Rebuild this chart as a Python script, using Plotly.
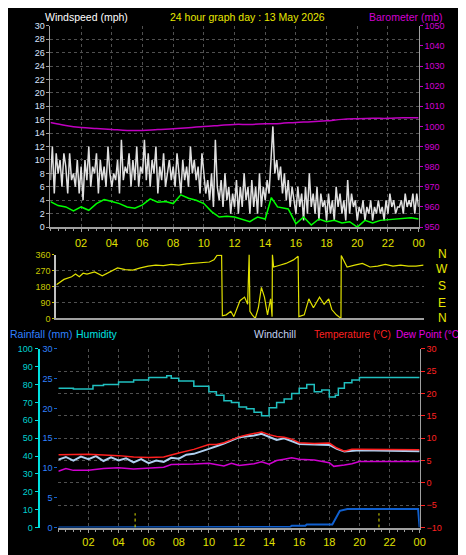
import plotly.graph_objects as go

W, H = 466, 555
def fx(p): return p / W
def fy(p): return 1 - p / H

hours_lbl = [2, 4, 6, 8, 10, 12, 14, 16, 18, 20, 22, 24]
hours_txt = ["02", "04", "06", "08", "10", "12", "14", "16", "18", "20", "22", "00"]

# --- wind gust (mph), every 0.125 h
gust_t = [i * 0.125 for i in range(193)]
gust = [7, 12, 5, 11, 8, 10, 6, 11, 9, 5, 11, 7, 8, 6, 10, 5,
        9, 4, 10, 7, 12, 6, 9, 8, 11, 5, 10, 7, 9, 6, 12, 8,
        6, 8, 7, 10, 5, 13, 7, 9, 8, 11, 6, 10, 7, 12, 6, 9,
        8, 13, 7, 11, 6, 10, 8, 12, 5, 9, 7, 11, 6, 8, 10, 7,
        9, 6, 11, 8, 5, 10, 7, 9, 6, 12, 8, 10, 7, 9, 5, 11,
        8, 5, 7, 4, 8, 3, 13, 6, 4, 7, 3, 8, 4, 6, 2, 5,
        3, 7, 2, 6, 3, 8, 4, 6, 2, 7, 3, 6, 2, 8, 3, 6,
        4, 7, 5, 10, 15, 8, 10, 7, 9, 5, 8, 4, 7, 3, 6, 4,
        2, 6, 3, 5, 1, 6, 2, 8, 3, 5, 2, 6, 1, 5, 3, 4,
        1, 5, 2, 4, 1, 6, 3, 5, 2, 4, 1, 7, 2, 5, 3, 4,
        1, 3, 2, 4, 1, 3, 2, 4, 1, 3, 2, 4, 2, 3, 1, 4,
        2, 5, 3, 4, 2, 3, 3, 4, 2, 5, 3, 4, 3, 5, 2, 5, 3]

# --- wind average (mph)
avg_t = [0, 0.5, 1, 1.5, 2, 2.5, 3, 3.5, 4, 4.5, 5, 5.5, 6, 6.5, 7, 7.5, 8, 8.5, 9, 9.5,
         10, 10.5, 11, 11.5, 12, 12.5, 13, 13.5, 14, 14.4, 14.8, 15.5, 16, 16.5, 17, 17.5,
         18, 18.5, 19, 19.5, 20, 20.5, 21, 21.5, 22, 22.5, 23, 23.5, 24]
avg = [3.8, 3.2, 3.0, 2.4, 3.0, 2.5, 3.5, 4.1, 3.8, 3.5, 3.0, 2.8, 3.3, 4.2, 3.7, 3.8, 3.5, 4.8, 4.3, 4.0,
       3.5, 2.3, 1.5, 1.6, 1.5, 1.2, 0.8, 1.5, 1.2, 4.4, 3.0, 2.7, 0.5, 1.5, 0.3, 1.2,
       0.8, 1.0, 0.6, 0.8, 0.0, 1.0, 0.6, 1.0, 1.1, 1.2, 1.3, 1.4, 1.2]

# --- barometer (mb)
baro_t = list(range(25))
baro = [1002, 1000.5, 999.5, 999, 998.5, 998, 998, 998.5, 998.8, 999.3, 1000, 1000.5, 1001,
        1001, 1001.3, 1001.5, 1002, 1002.3, 1002.8, 1003.5, 1003.8, 1004, 1004, 1004.3, 1004.3]

# --- wind direction (deg)
dir_t = [0, 0.5, 1, 1.25, 1.5, 1.75, 2, 2.5, 3, 3.5, 4, 4.5, 5, 5.5, 6, 6.5, 7, 7.5, 8, 8.5, 9, 9.5,
         10, 10.3, 10.5, 10.8, 10.85, 11.1, 11.4, 11.6, 11.8, 12.0, 12.3, 12.5, 12.6, 12.65, 12.8,
         13.0, 13.2, 13.4, 13.6, 13.8, 14.0, 14.1, 14.12, 14.2, 14.6, 15, 15.5, 15.8, 15.85, 16.2,
         16.5, 16.8, 17.2, 17.5, 17.8, 18.0, 18.3, 18.6, 18.62, 19, 19.5, 20, 20.5, 21, 21.5, 22,
         22.5, 23, 23.5, 24]
direc = [190, 220, 235, 250, 235, 255, 250, 262, 240, 262, 285, 275, 272, 285, 295, 300, 298, 305,
         300, 308, 310, 315, 318, 330, 355, 355, 15, 20, 40, 10, 60, 100, 120, 80, 360, 40, 20,
         0, 60, 175, 120, 20, 110, 10, 360, 290, 300, 310, 330, 350, 10, 20,
         110, 60, 120, 80, 110, 50, 20, 0, 355, 290, 300, 310, 290, 295, 305, 295,
         300, 295, 295, 300]

# --- humidity (%)
hum_t = [0, 1, 2, 2.3, 3, 4, 5, 6, 7, 7.2, 7.5, 8, 9, 10, 10.5, 11, 11.5, 12, 12.5, 13, 13.5,
         14, 14.5, 15, 15.5, 16, 16.5, 17, 17.5, 18, 18.4, 18.6, 19, 19.5, 20, 24]
hum = [78, 77.5, 77.5, 79.5, 80, 81.5, 82.5, 84, 84, 85, 83.5, 82, 79, 76, 74, 71, 70, 67.5, 66.5,
       64.5, 62.5, 67, 70, 72, 75, 78, 80, 76, 77, 73, 74, 78, 81, 82.5, 84, 84]

# --- temperature (C)
temp_t = [0, 2, 4, 5, 6, 7, 8, 9, 10, 10.5, 11, 11.5, 12, 12.5, 13, 13.5, 14, 14.5, 15, 15.5,
          16, 16.5, 17, 18, 18.5, 19, 19.5, 20, 24]
temp = [6.3, 6.4, 6.1, 5.8, 5.7, 5.8, 6.7, 7.5, 8.6, 8.6, 9.0, 9.7, 10.3, 10.7, 11.0, 11.4, 10.8,
        10.4, 10.2, 9.8, 9.0, 8.9, 8.8, 8.9, 7.8, 7.1, 7.5, 7.5, 7.4]

# --- windchill (C)
chill_t = [0, 0.5, 1, 1.5, 2, 2.5, 3, 3.5, 4, 4.5, 5, 5.5, 6, 6.5, 7, 7.5, 8, 8.5, 9, 9.5, 10,
           10.5, 11, 12, 13, 13.5, 14, 14.5, 15, 16, 17, 18, 18.5, 19, 20, 24]
chill = [5.2, 5.8, 5.0, 5.9, 5.3, 6.0, 4.9, 5.7, 5.0, 5.5, 4.6, 5.3, 4.4, 5.0, 4.7, 5.6, 5.4, 6.3,
         6.5, 7.0, 7.6, 8.2, 8.8, 10.2, 10.6, 11.0, 10.3, 9.6, 10.0, 8.7, 8.6, 8.5, 7.6, 7.0, 7.3, 7.1]

# --- dew point (C)
dew_t = [0, 0.5, 1, 2, 3, 4, 5, 6, 7, 7.5, 8, 9, 10, 11, 11.5, 12, 13, 13.5, 14, 14.5, 15, 15.5,
         16, 17, 18, 18.3, 19, 19.5, 20, 24]
dew = [2.6, 3.2, 2.8, 2.8, 3.2, 3.4, 3.1, 3.3, 3.5, 4.1, 4.1, 4.2, 4.4, 3.8, 4.4, 3.9, 4.3, 4.7,
       4.2, 5.0, 5.3, 5.6, 5.3, 5.1, 4.5, 3.7, 4.0, 4.3, 4.8, 4.8]

# --- rainfall (mm)
rain_t = [0, 6.8, 6.9, 15.4, 15.5, 16.4, 16.5, 18.2, 18.7, 19.2, 23.9, 24]
rain = [0, 0, 0.1, 0.1, 0.3, 0.3, 0.5, 0.5, 2.8, 3.1, 3.1, 0]

mark_t = [5.1, 21.3]
mark_h = [2.4, 2.4]

fig = go.Figure()
fig.add_trace(go.Scatter(x=gust_t, y=gust, mode="lines", line=dict(color="#e0e0e0", width=1.5),
                         xaxis="x", yaxis="y"))
fig.add_trace(go.Scatter(x=avg_t, y=avg, mode="lines", line=dict(color="#00ff00", width=1.5),
                         xaxis="x", yaxis="y"))
fig.add_trace(go.Scatter(x=baro_t, y=baro, mode="lines", line=dict(color="#c000c0", width=1.5, shape="spline"),
                         xaxis="x", yaxis="y2"))
fig.add_trace(go.Scatter(x=dir_t, y=direc, mode="lines", line=dict(color="#e0e000", width=1.2),
                         xaxis="x2", yaxis="y3"))
fig.add_trace(go.Scatter(x=hum_t, y=hum, mode="lines", line=dict(color="#20c0c0", width=1.5, shape="hv"),
                         xaxis="x3", yaxis="y5"))
fig.add_trace(go.Scatter(x=chill_t, y=chill, mode="lines", line=dict(color="#b0d0f0", width=2),
                         xaxis="x3", yaxis="y4"))
fig.add_trace(go.Scatter(x=temp_t, y=temp, mode="lines", line=dict(color="#ff2020", width=1.5),
                         xaxis="x3", yaxis="y4"))
fig.add_trace(go.Scatter(x=dew_t, y=dew, mode="lines", line=dict(color="#d000d0", width=1.5),
                         xaxis="x3", yaxis="y4"))
fig.add_trace(go.Scatter(x=rain_t, y=rain, mode="lines", line=dict(color="#1060d0", width=2),
                         xaxis="x3", yaxis="y6"))
for t, h in zip(mark_t, mark_h):
    fig.add_trace(go.Scatter(x=[t, t], y=[0, h], mode="lines", line=dict(color="#e0e000", width=1, dash="dot"),
                             xaxis="x3", yaxis="y6"))

grid = dict(gridcolor="#505050", griddash="dot", gridwidth=1)
font = "Liberation Sans"
xtick = dict(tickvals=hours_lbl, ticktext=hours_txt, tickfont=dict(color="#e0e000", size=11, family=font))

fig.update_layout(
    width=W, height=H, margin=dict(l=0, r=0, t=0, b=0),
    paper_bgcolor="black", plot_bgcolor="black", showlegend=False,
    xaxis=dict(domain=[fx(43), fx(416)], range=[0, 24], anchor="y", showline=True, linecolor="#a0a0a0",
               linewidth=2, ticks="outside", ticklen=3, tickcolor="#a0a0a0", showgrid=True,
               ticklabelstandoff=2, zeroline=False, **xtick, **grid,
               minor=dict(dtick=0.5, ticks="outside", ticklen=2, tickcolor="#a0a0a0")),
    yaxis=dict(domain=[fy(218), fy(13)], range=[0, 30], dtick=2, showline=True, linecolor="#a0a0a0",
               ticks="outside", ticklen=3, tickcolor="#a0a0a0", zeroline=False,
               tickfont=dict(color="#d8e4ff", size=9, family=font), **grid),
    yaxis2=dict(overlaying="y", side="right", range=[950, 1050], dtick=10, showgrid=False, showline=True,
                linecolor="#a0a0a0", ticks="outside", ticklen=3, tickcolor="#c000c0", zeroline=False,
                tickfont=dict(color="#d000d0", size=9, family=font)),
    xaxis2=dict(domain=[fx(49), fx(421)], range=[0, 24], anchor="y3", showticklabels=False, showgrid=False,
                showline=True, linecolor="#a0a0a0", linewidth=2, zeroline=False),
    yaxis3=dict(domain=[fy(311), fy(246)], range=[0, 360], tickvals=[0, 90, 180, 270, 360], anchor="x2",
                showline=True, linecolor="#c0c0c0", linewidth=2, ticks="outside", ticklen=2, tickcolor="#c8c800",
                zeroline=False, tickfont=dict(color="#c8c800", size=9, family=font), **grid),
    xaxis3=dict(domain=[fx(51), fx(417)], range=[0, 24], anchor="y4", showline=True, linecolor="#a0a0a0",
                linewidth=2, ticks="outside", ticklen=3, tickcolor="#a0a0a0", showgrid=True,
                ticklabelstandoff=0, zeroline=False, **xtick, **grid,
                minor=dict(dtick=0.5, ticks="outside", ticklen=2, tickcolor="#a0a0a0")),
    yaxis4=dict(domain=[fy(524), fy(342)], range=[-10, 30], dtick=5, side="right", anchor="x3",
                showline=True, linecolor="#a0a0a0", ticks="outside", ticklen=4, tickcolor="#ff2020",
                zeroline=False, tickfont=dict(color="#ff2020", size=9, family=font), **grid),
    yaxis5=dict(overlaying="y4", side="left", anchor="free", position=fx(31), range=[0, 100], dtick=10,
                showgrid=False, showline=True, linecolor="#00e0e0", linewidth=2, ticks="outside", ticklen=3,
                tickcolor="#00e0e0", zeroline=False, tickfont=dict(color="#00d0d0", size=9, family=font)),
    yaxis6=dict(overlaying="y4", side="left", anchor="free", position=fx(50), range=[0, 30], dtick=5,
                showgrid=False, showline=False, ticks="outside", ticklen=3, tickcolor="#1060d0",
                zeroline=False, tickfont=dict(color="#3080ff", size=9, family=font)),
)

def ann(x, y, text, color, anchor="left", size=11):
    fig.add_annotation(x=fx(x), y=fy(y), xref="paper", yref="paper", text=text, showarrow=False,
                       xanchor=anchor, yanchor="middle", font=dict(color=color, size=size, family=font))

ann(35, 4, "Windspeed (mph)", "#ffffff", size=10.5)
ann(243, 4, "24 hour graph day : 13 May 2026", "#e8e800", "center", 10.5)
ann(443, 4, "Barometer (mb)", "#d000d0", "right", 10.5)
ann(0, 327, "Rainfall (mm)", "#3080ff", size=10.5)
ann(67, 327, "Humidity", "#00e0e0", size=10.5)
ann(247, 327, "Windchill", "#c0d0f0", size=10.5)
ann(390, 327, "Temperature (°C)", "#ff2020", "right", 10)
ann(462, 327, "Dew Point (°C)", "#e000e0", "right", 10)
for lbl, yy in zip(["N", "W", "S", "E", "N"], [245, 261, 278, 295, 311]):
    ann(440, yy, lbl, "#e8e800", "center", 12)

fig.write_html("out.html")
